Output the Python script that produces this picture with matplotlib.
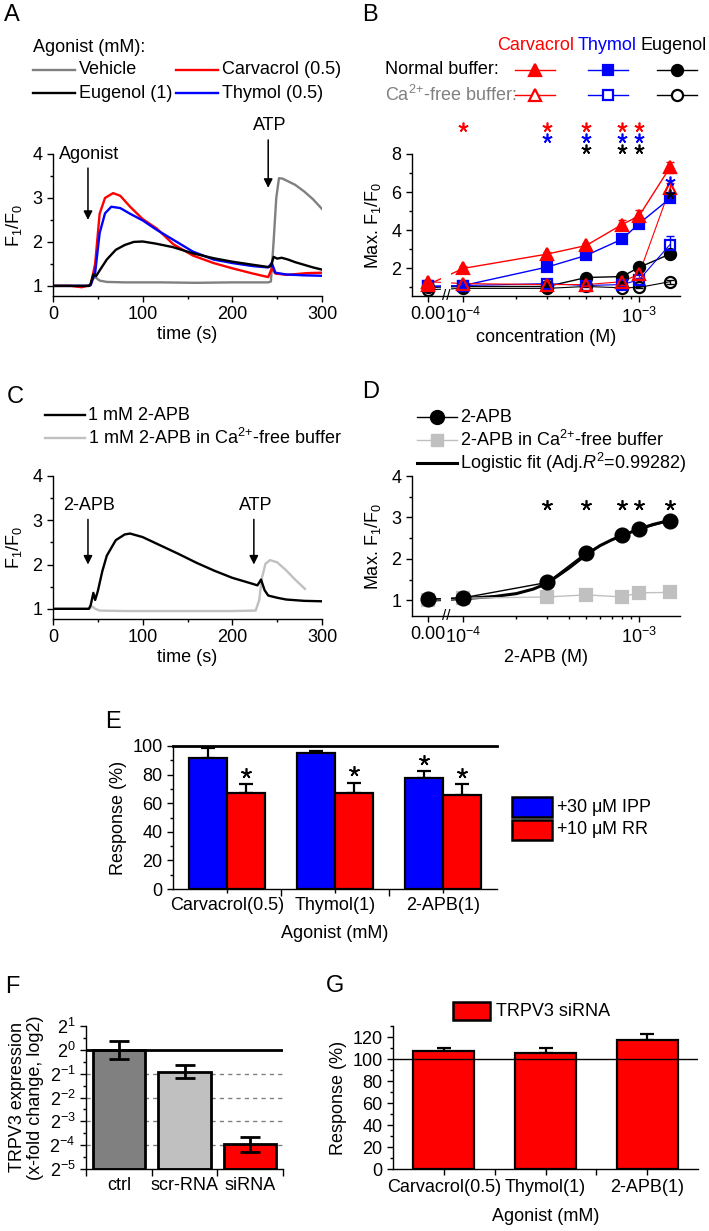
"""
plot.py

TRPV3 agonist figure: Ca2+ traces (A, C), dose-response (B, D),
inhibitor bars (E), siRNA knock-down (F) and siRNA response (G).
"""

import numpy as np
import matplotlib
matplotlib.use("Agg")
import matplotlib.pyplot as plt
from matplotlib.patches import Rectangle
from matplotlib.ticker import MultipleLocator, FixedLocator, NullFormatter
import matplotlib.transforms as mtransforms

plt.rcParams.update({
    "font.family": ["Liberation Sans", "DejaVu Sans"],
    "font.size": 13,
    "mathtext.fontset": "custom",
    "mathtext.rm": "Liberation Sans",
    "mathtext.it": "Liberation Sans:italic",
    "mathtext.bf": "Liberation Sans:bold",
    "axes.linewidth": 1.0,
    "xtick.major.size": 4.5, "ytick.major.size": 4.5,
    "xtick.minor.size": 2.5, "ytick.minor.size": 2.5,
    "xtick.major.width": 1.0, "ytick.major.width": 1.0,
    "xtick.minor.width": 1.0, "ytick.minor.width": 1.0,
    "xtick.major.pad": 3, "ytick.major.pad": 3,
})

RED, BLUE, GRAY, LGRAY = "#ff0000", "#0000ff", "#808080", "#c0c0c0"
CA = "Ca$^{2{+}}$"

# ---- A: Ca2+ traces (time in s, F1/F0)
veh_t = [0, 20, 40, 42, 44, 47, 52, 60, 80, 120, 160, 200, 240, 243, 246, 249, 252, 256, 260, 270, 280, 290, 300]
veh_v = [1.0, 1.0, 1.0, 1.02, 1.15, 1.2, 1.12, 1.09, 1.08, 1.08, 1.07, 1.08, 1.08, 1.1, 2.0, 3.0, 3.45, 3.44, 3.4, 3.3, 3.15, 2.97, 2.75]
carv_t = [0, 20, 32, 38, 42, 47, 52, 58, 67, 75, 86, 100, 116, 134, 156, 179, 200, 223, 240, 244, 248, 261, 283, 300]
carv_v = [1.0, 1.0, 0.97, 1.0, 1.02, 1.5, 2.64, 3.0, 3.11, 3.05, 2.8, 2.52, 2.3, 1.95, 1.69, 1.52, 1.4, 1.28, 1.2, 1.4, 1.28, 1.25, 1.29, 1.3]
thym_t = [0, 20, 40, 42, 47, 52, 58, 65, 75, 86, 100, 116, 134, 156, 179, 200, 223, 240, 244, 248, 260, 280, 300]
thym_v = [1.0, 1.0, 1.0, 1.02, 1.3, 2.2, 2.65, 2.8, 2.77, 2.64, 2.49, 2.27, 2.05, 1.78, 1.6, 1.52, 1.45, 1.42, 1.52, 1.3, 1.26, 1.24, 1.23]
eug_t = [0, 20, 40, 42, 45, 48, 52, 60, 70, 80, 90, 100, 115, 134, 156, 179, 200, 223, 240, 243, 246, 250, 255, 262, 270, 280, 290, 300]
eug_v = [1.0, 1.0, 1.0, 1.05, 1.26, 1.22, 1.35, 1.6, 1.82, 1.93, 2.0, 2.01, 1.96, 1.88, 1.74, 1.63, 1.55, 1.48, 1.43, 1.45, 1.66, 1.62, 1.64, 1.6, 1.54, 1.48, 1.42, 1.37]

# ---- B: dose-response, concentration in M (0 drawn left of the axis break)
conc = [0, 1e-4, 3e-4, 5e-4, 8e-4, 1e-3, 1.5e-3]
carv_norm = [1.15, 2.0, 2.75, 3.2, 4.3, 4.75, 7.3]
carv_norm_err = [0.1, 0.15, 0.1, 0.15, 0.25, 0.3, 0.3]
carv_free = [1.3, 1.2, 1.15, 1.15, 1.3, 1.7, 6.2]
carv_free_err = [0.1, 0.1, 0.1, 0.1, 0.15, 0.25, 0.3]
thym_norm = [1.05, 1.1, 2.07, 2.68, 3.53, 4.35, 5.67]
thym_norm_err = [0.05, 0.05, 0.15, 0.15, 0.15, 0.2, 0.2]
thym_free = [1.05, 1.1, 1.2, 1.1, 1.15, 1.4, 3.25]
thym_free_err = [0.05, 0.05, 0.1, 0.05, 0.05, 0.1, 0.45]
eug_norm = [1.0, 1.05, 1.05, 1.52, 1.57, 2.05, 2.75]
eug_norm_err = [0.05, 0.05, 0.05, 0.1, 0.1, 0.1, 0.15]
eug_free = [0.88, 0.95, 0.95, 1.05, 0.98, 1.0, 1.3]
eug_free_err = [0.05, 0.05, 0.05, 0.05, 0.05, 0.05, 0.1]
sig_carv = [1e-4, 3e-4, 5e-4, 8e-4, 1e-3]
sig_thym = [3e-4, 5e-4, 8e-4, 1e-3]
sig_eug = [5e-4, 8e-4, 1e-3]

# ---- C: 2-APB traces
apb_t = [0, 20, 40, 42, 45, 47, 50, 55, 60, 70, 80, 86, 100, 120, 140, 160, 180, 200, 220, 228, 232, 236, 240, 250, 260, 280, 300]
apb_v = [1.0, 1.0, 1.0, 1.08, 1.36, 1.2, 1.4, 1.85, 2.2, 2.55, 2.68, 2.7, 2.62, 2.43, 2.24, 2.04, 1.86, 1.7, 1.58, 1.53, 1.66, 1.42, 1.3, 1.25, 1.21, 1.18, 1.17]
apbfree_t = [0, 20, 40, 44, 47, 52, 80, 120, 160, 200, 226, 230, 233, 237, 242, 250, 260, 270, 281]
apbfree_v = [1.0, 1.0, 1.0, 1.05, 1.0, 0.96, 0.95, 0.95, 0.95, 0.95, 0.96, 1.2, 1.7, 2.02, 2.1, 2.05, 1.87, 1.66, 1.45]

# ---- D: 2-APB dose-response
apb_norm = [1.02, 1.06, 1.43, 2.15, 2.57, 2.71, 2.92]
apb_free = [1.0, 1.05, 1.08, 1.13, 1.08, 1.18, 1.19]
fit_conc = [0, 1e-4, 1.5e-4, 2e-4, 2.5e-4, 3e-4, 4e-4, 5e-4, 6e-4, 7e-4, 8e-4, 1e-3, 1.2e-3, 1.5e-3]
fit_val = [1.0, 1.04, 1.09, 1.16, 1.27, 1.41, 1.78, 2.1, 2.32, 2.46, 2.56, 2.72, 2.83, 2.93]
sig_apb = [3e-4, 5e-4, 8e-4, 1e-3, 1.5e-3]

# ---- E: inhibitors (% of agonist response)
agonists = ["Carvacrol(0.5)", "Thymol(1)", "2-APB(1)"]
ipp = [91.3, 94.8, 77.7]
ipp_err = [7.5, 2.0, 4.5]
rr = [67.4, 67.2, 65.6]
rr_err = [6.0, 7.0, 7.5]
sig_ipp = [False, False, True]
sig_rr = [True, True, True]

# ---- F: TRPV3 expression, log2 fold change
groups = ["ctrl", "scr-RNA", "siRNA"]
expr_log2 = [0.0, -0.92, -3.97]
expr_err = [0.38, 0.28, 0.3]

# ---- G: response after TRPV3 siRNA
sirna_resp = [107.3, 105.5, 117.0]
sirna_err = [2.4, 4.8, 5.4]

W, H = 709, 1231
X_ZERO = 10 ** -4.2       # where "0.00" sits on the broken log axis
fig = plt.figure(figsize=(W / 100, H / 100), dpi=100)


def add_axes(left, top, right, bottom):
    return fig.add_axes([left / W, 1 - bottom / H, (right - left) / W, (bottom - top) / H])


def keep_spines(ax, keep=("left", "bottom")):
    for name, sp in ax.spines.items():
        sp.set_visible(name in keep)


def star(ax, x, y, color="k", ms=7):
    """Significance asterisk drawn as a 5-armed marker."""
    ax.plot([x], [y], linestyle="", marker=(5, 2, 0), ms=ms, mew=1.2,
            color=color, clip_on=False, zorder=6)


def arrow(ax, x, y_tail, y_head, label):
    ax.annotate("", xy=(x, y_head), xytext=(x, y_tail), annotation_clip=False,
                arrowprops=dict(arrowstyle="-|>", color="k", lw=1.1,
                                mutation_scale=13, shrinkA=0, shrinkB=0))
    ax.annotate(label, (x, y_tail), xytext=(1, 4), textcoords="offset points",
                ha="center", va="bottom", annotation_clip=False)


def xpos(values):
    v = np.asarray(values, float)
    return np.where(v == 0, X_ZERO, v)


def conc_axis(ax, ylim):
    ax.set_xscale("log")
    ax.set_xlim(5.1e-5, 1.71e-3)
    ax.set_ylim(*ylim)
    ax.xaxis.set_major_locator(FixedLocator([X_ZERO, 1e-4, 1e-3]))
    ax.set_xticklabels(["0.00", "$10^{-4}$", "$10^{-3}$"])
    ax.xaxis.set_minor_locator(FixedLocator([k * 1e-4 for k in range(2, 10)]))
    ax.xaxis.set_minor_formatter(NullFormatter())
    brk = np.sqrt(X_ZERO * 1e-4)
    ax.axvspan(brk / 1.07, brk * 1.07, ymin=0.012, ymax=1, color="w", zorder=3, lw=0)
    trans = mtransforms.blended_transform_factory(ax.transData, ax.transAxes)
    ax.text(brk, 0.0, "//", transform=trans, ha="center", va="center",
            fontsize=11, zorder=6, clip_on=False)
    keep_spines(ax)


def series(ax, y, err, color, marker, filled, lw=1.0, ms=8):
    x = xpos(conc)
    ax.plot(x, y, "-", color=color, lw=lw, zorder=2)
    if err is not None:
        ax.errorbar(x, y, yerr=err, fmt="none", ecolor=color, elinewidth=1.0,
                    capsize=3, capthick=1.0, zorder=3.5)
    ax.plot(x, y, linestyle="", marker=marker, ms=ms, color=color,
            mfc=color if filled else "none", mec=color, mew=1.6, zorder=4)


# ---------------- A
ax = add_axes(53, 154, 322, 296)
ax.plot(veh_t, veh_v, color=GRAY, lw=1.7)
ax.plot(carv_t, carv_v, color=RED, lw=1.7)
ax.plot(thym_t, thym_v, color=BLUE, lw=1.7)
ax.plot(eug_t, eug_v, color="k", lw=1.7)
ax.set_xlim(0, 300)
ax.set_ylim(0.77, 4)
ax.xaxis.set_major_locator(MultipleLocator(100))
ax.xaxis.set_minor_locator(MultipleLocator(50))
ax.yaxis.set_major_locator(MultipleLocator(1))
ax.yaxis.set_minor_locator(MultipleLocator(0.5))
ax.set_xlabel("time (s)", labelpad=2)
ax.set_ylabel("F$_1$/F$_0$", labelpad=6)
keep_spines(ax)
arrow(ax, 39, 3.68, 2.5, "Agonist")
arrow(ax, 240, 4.32, 3.23, "ATP")

# ---------------- B
ax = add_axes(412, 154, 680, 296)
conc_axis(ax, (0.55, 8))
series(ax, eug_free, eug_free_err, "k", "o", False, lw=0.8, ms=8)
series(ax, eug_norm, eug_norm_err, "k", "o", True, ms=8)
series(ax, thym_free, thym_free_err, BLUE, "s", False, lw=0.8, ms=7)
series(ax, thym_norm, thym_norm_err, BLUE, "s", True, ms=7)
series(ax, carv_free, carv_free_err, RED, "^", False, lw=0.8, ms=9)
series(ax, carv_norm, carv_norm_err, RED, "^", True, ms=9)
ax.yaxis.set_major_locator(MultipleLocator(2))
ax.yaxis.set_minor_locator(MultipleLocator(1))
ax.set_xlabel("concentration (M)", labelpad=2)
ax.set_ylabel("Max. F$_1$/F$_0$", labelpad=6)
for c in sig_carv:
    star(ax, c, 9.42, RED)
for c in sig_thym:
    star(ax, c, 8.84, BLUE)
for c in sig_eug:
    star(ax, c, 8.26, "k")
star(ax, conc[-1], 6.6, BLUE)
star(ax, conc[-1], 5.9, "k")

# ---------------- C
ax = add_axes(53, 476, 322, 619)
ax.plot(apbfree_t, apbfree_v, color=LGRAY, lw=1.7)
ax.plot(apb_t, apb_v, color="k", lw=1.7)
ax.set_xlim(0, 300)
ax.set_ylim(0.77, 4)
ax.xaxis.set_major_locator(MultipleLocator(100))
ax.xaxis.set_minor_locator(MultipleLocator(50))
ax.yaxis.set_major_locator(MultipleLocator(1))
ax.yaxis.set_minor_locator(MultipleLocator(0.5))
ax.set_xlabel("time (s)", labelpad=2)
ax.set_ylabel("F$_1$/F$_0$", labelpad=6)
keep_spines(ax)
arrow(ax, 39, 3.02, 2.0, "2-APB")
arrow(ax, 224, 3.02, 2.0, "ATP")

# ---------------- D
ax = add_axes(412, 476, 680, 616)
conc_axis(ax, (0.62, 4))
ax.plot(xpos(fit_conc), fit_val, "-", color="k", lw=2.2, zorder=2)
series(ax, apb_free, None, LGRAY, "s", True, ms=8)
series(ax, apb_norm, None, "k", "o", True, lw=1.0, ms=10)
ax.yaxis.set_major_locator(MultipleLocator(1))
ax.yaxis.set_minor_locator(MultipleLocator(0.5))
ax.set_xlabel("2-APB (M)", labelpad=2)
ax.set_ylabel("Max. F$_1$/F$_0$", labelpad=6)
for c in sig_apb:
    star(ax, c, 3.3, ms=7.5)

# ---------------- E
ax = add_axes(173, 746, 497, 889)
x = np.arange(len(agonists))
bw = 0.35
ax.bar(x - bw / 2, ipp, bw, color=BLUE, edgecolor="k", lw=1.6, zorder=2)
ax.bar(x + bw / 2, rr, bw, color=RED, edgecolor="k", lw=1.6, zorder=2)
ax.errorbar(x - bw / 2, ipp, yerr=[np.zeros(3), ipp_err], fmt="none", ecolor="k",
            elinewidth=1.6, capsize=5, capthick=1.6, zorder=1)
ax.errorbar(x + bw / 2, rr, yerr=[np.zeros(3), rr_err], fmt="none", ecolor="k",
            elinewidth=1.6, capsize=5, capthick=1.6, zorder=1)
for i in range(len(agonists)):
    if sig_ipp[i]:
        star(ax, x[i] - bw / 2, ipp[i] + ipp_err[i] + 8, ms=7.5)
    if sig_rr[i]:
        star(ax, x[i] + bw / 2, rr[i] + rr_err[i] + 8, ms=7.5)
ax.set_xlim(-0.5, 2.5)
ax.set_ylim(0, 100)
ax.set_xticks(x)
ax.set_xticklabels(agonists)
ax.xaxis.set_minor_locator(FixedLocator([0.5, 1.5]))
ax.tick_params(axis="x", which="major", length=3)
ax.tick_params(axis="x", which="minor", length=5)
ax.yaxis.set_major_locator(MultipleLocator(20))
ax.yaxis.set_minor_locator(MultipleLocator(10))
ax.set_xlabel("Agonist (mM)", labelpad=8)
ax.set_ylabel("Response (%)", labelpad=4)
keep_spines(ax, ("left", "bottom", "top"))
ax.spines["top"].set_linewidth(2.0)

# ---------------- F
ax = add_axes(86, 1026, 283, 1169)
x = np.arange(len(groups))
ax.hlines([-1, -2, -3, -4], -0.5, 2.5, colors=GRAY, linestyles=(0, (3, 3)), lw=1, zorder=0)
ax.bar(x, np.asarray(expr_log2) + 5, 0.8, bottom=-5, color=[GRAY, LGRAY, RED],
       edgecolor="k", lw=2, zorder=2)
ax.errorbar(x, expr_log2, yerr=expr_err, fmt="none", ecolor="k", elinewidth=2,
            capsize=7, capthick=2, zorder=4)
ax.axhline(0, color="k", lw=2, zorder=3)
ax.set_xlim(-0.5, 2.5)
ax.set_ylim(-5, 1)
ax.set_yticks(range(-5, 2))
ax.set_yticklabels([f"$2^{{{k}}}$" for k in range(-5, 2)])
ax.yaxis.set_minor_locator(MultipleLocator(0.5))
ax.set_xticks([-0.5, 0.5, 1.5, 2.5])
ax.xaxis.set_major_formatter(NullFormatter())
ax.set_xticks(x, minor=True)
ax.set_xticklabels(groups, minor=True)
ax.tick_params(axis="x", which="minor", length=0, pad=6)
ax.tick_params(axis="x", which="major", length=5)
ax.set_ylabel("TRPV3 expression\n(x-fold change, log2)", labelpad=4, linespacing=1.1)
keep_spines(ax)

# ---------------- G
ax = add_axes(393, 1026, 698, 1169)
x = np.arange(len(agonists))
ax.bar(x, sirna_resp, 0.6, color=RED, edgecolor="k", lw=1.6, zorder=2)
ax.errorbar(x, sirna_resp, yerr=[np.zeros(3), sirna_err], fmt="none", ecolor="k",
            elinewidth=1.6, capsize=5, capthick=1.6, zorder=1)
ax.axhline(100, color="k", lw=1.0, zorder=3)
ax.set_xlim(-0.5, 2.5)
ax.set_ylim(0, 130)
ax.set_xticks(x)
ax.set_xticklabels(agonists)
ax.xaxis.set_minor_locator(FixedLocator([0.5, 1.5]))
ax.tick_params(axis="x", which="minor", length=4.5)
ax.yaxis.set_major_locator(MultipleLocator(20))
ax.yaxis.set_minor_locator(MultipleLocator(10))
ax.set_xlabel("Agonist (mM)", labelpad=8)
ax.set_ylabel("Response (%)", labelpad=4)
keep_spines(ax)

# ---------------- legends and panel letters (figure pixel coordinates)
ov = fig.add_axes([0, 0, 1, 1], zorder=10)
ov.set_xlim(0, W)
ov.set_ylim(H, 0)
ov.axis("off")
ov.patch.set_alpha(0)

for letter, (px, py) in {"A": (12, 15), "B": (370, 15), "C": (15, 397), "D": (371, 392),
                         "E": (113, 722), "F": (12, 987), "G": (335, 986)}.items():
    ov.text(px, py, letter, fontsize=17, ha="center", va="center")

# A legend
ov.text(33, 47, "Agonist (mM):", va="center")
for (x0, y0), color, label in [((33, 70), GRAY, "Vehicle"), ((176, 70), RED, "Carvacrol (0.5)"),
                               ((33, 93), "k", "Eugenol (1)"), ((176, 93), BLUE, "Thymol (0.5)")]:
    ov.plot([x0, x0 + 42], [y0, y0], color=color, lw=1.7)
    ov.text(x0 + 46, y0, label, va="center")

# B legend
for xt, color, label in [(497, RED, "Carvacrol"), (578, BLUE, "Thymol"), (641, "k", "Eugenol")]:
    ov.text(xt, 45, label, va="center", color=color)
ov.text(385, 70, "Normal buffer:", va="center")
ov.text(385, 95, CA + "-free buffer:", va="center", color=GRAY)
for xm, color, marker, ms in [(535, RED, "^", 9), (608, BLUE, "s", 7), (677, "k", "o", 8)]:
    for y0, filled in [(70, True), (95, False)]:
        ov.plot([xm - 20, xm + 20], [y0, y0], color=color, lw=1.0)
        ov.plot([xm], [y0], marker=marker, ms=ms, color=color,
                mfc=color if filled else "w", mec=color, mew=1.6)

# C legend
ov.plot([45, 85], [415, 415], color="k", lw=1.7)
ov.text(88, 415, "1 mM 2-APB", va="center")
ov.plot([45, 85], [438, 438], color=LGRAY, lw=1.7)
ov.text(88, 438, "1 mM 2-APB in " + CA + "-free buffer", va="center")

# D legend
ov.plot([417, 457], [417, 417], color="k", lw=1.0)
ov.plot([437], [417], marker="o", ms=10, color="k")
ov.text(460, 417, "2-APB", va="center")
ov.plot([417, 457], [440, 440], color=LGRAY, lw=1.0)
ov.plot([437], [440], marker="s", ms=8, color=LGRAY)
ov.text(460, 440, "2-APB in " + CA + "-free buffer", va="center")
ov.plot([417, 457], [463, 463], color="k", lw=2.2)
ov.text(460, 463, "Logistic fit (Adj.$R^2$=0.99282)", va="center")

# E legend
ov.add_patch(Rectangle((512, 797), 40, 20, facecolor=BLUE, edgecolor="k", lw=1.8))
ov.add_patch(Rectangle((512, 820), 40, 20, facecolor=RED, edgecolor="k", lw=1.8))
ov.text(556, 807, "+30 $\\mathrm{\\mu}$M IPP", va="center")
ov.text(556, 830, "+10 $\\mathrm{\\mu}$M RR", va="center")

# G legend
ov.add_patch(Rectangle((453, 1002), 37, 18, facecolor=RED, edgecolor="k", lw=1.8))
ov.text(496, 1011, "TRPV3 siRNA", va="center")

fig.savefig("out.png", dpi=100)
